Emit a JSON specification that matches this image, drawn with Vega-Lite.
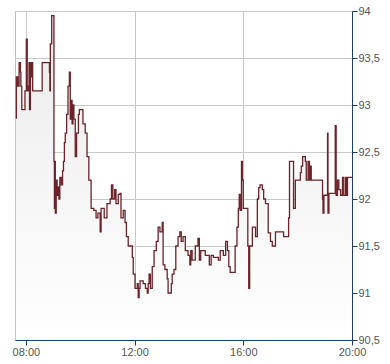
{
  "$schema": "https://vega.github.io/schema/vega-lite/v6.json",
  "width": 337,
  "height": 329,
  "autosize": "none",
  "padding": {"left": 15, "top": 11, "right": 38, "bottom": 24},
  "background": "#ffffff",
  "config": {
    "view": {"stroke": "#c0c0c0", "strokeWidth": 1},
    "axis": {
      "labelFont": "Liberation Sans",
      "labelFontSize": 11,
      "labelColor": "#555555",
      "domainColor": "#1f3b6b",
      "tickColor": "#1f3b6b",
      "tickSize": 5,
      "gridColor": "#c8c8c8",
      "gridWidth": 1,
      "gridOpacity": 1,
      "title": null
    }
  },
  "data": {
    "values": [
      {"t": "2024-01-15T07:38", "v": 92.86},
      {"t": "2024-01-15T07:39", "v": 93.3},
      {"t": "2024-01-15T07:42", "v": 93.2},
      {"t": "2024-01-15T07:45", "v": 93.45},
      {"t": "2024-01-15T07:48", "v": 93.35},
      {"t": "2024-01-15T07:49", "v": 93.2},
      {"t": "2024-01-15T07:51", "v": 92.95},
      {"t": "2024-01-15T07:58", "v": 93.15},
      {"t": "2024-01-15T08:01", "v": 93.7},
      {"t": "2024-01-15T08:03", "v": 93.2},
      {"t": "2024-01-15T08:04", "v": 93.15},
      {"t": "2024-01-15T08:07", "v": 93.45},
      {"t": "2024-01-15T08:08", "v": 92.95},
      {"t": "2024-01-15T08:10", "v": 93.45},
      {"t": "2024-01-15T08:12", "v": 93.3},
      {"t": "2024-01-15T08:13", "v": 93.45},
      {"t": "2024-01-15T08:15", "v": 93.15},
      {"t": "2024-01-15T08:36", "v": 93.45},
      {"t": "2024-01-15T08:52", "v": 93.35},
      {"t": "2024-01-15T08:53", "v": 93.15},
      {"t": "2024-01-15T08:54", "v": 93.65},
      {"t": "2024-01-15T08:57", "v": 93.95},
      {"t": "2024-01-15T09:02", "v": 92.4},
      {"t": "2024-01-15T09:03", "v": 91.9},
      {"t": "2024-01-15T09:04", "v": 92.4},
      {"t": "2024-01-15T09:05", "v": 91.85},
      {"t": "2024-01-15T09:07", "v": 92.2},
      {"t": "2024-01-15T09:09", "v": 92.04},
      {"t": "2024-01-15T09:11", "v": 92.13},
      {"t": "2024-01-15T09:13", "v": 92.0},
      {"t": "2024-01-15T09:15", "v": 92.23},
      {"t": "2024-01-15T09:18", "v": 92.15},
      {"t": "2024-01-15T09:21", "v": 92.3},
      {"t": "2024-01-15T09:23", "v": 92.4},
      {"t": "2024-01-15T09:25", "v": 92.6},
      {"t": "2024-01-15T09:27", "v": 92.7},
      {"t": "2024-01-15T09:30", "v": 92.9},
      {"t": "2024-01-15T09:33", "v": 93.2},
      {"t": "2024-01-15T09:36", "v": 93.35},
      {"t": "2024-01-15T09:38", "v": 92.85},
      {"t": "2024-01-15T09:40", "v": 93.05},
      {"t": "2024-01-15T09:42", "v": 92.8},
      {"t": "2024-01-15T09:44", "v": 93.0},
      {"t": "2024-01-15T09:46", "v": 92.85},
      {"t": "2024-01-15T09:49", "v": 92.45},
      {"t": "2024-01-15T09:52", "v": 92.7},
      {"t": "2024-01-15T09:56", "v": 92.9},
      {"t": "2024-01-15T09:58", "v": 92.95},
      {"t": "2024-01-15T10:06", "v": 92.8},
      {"t": "2024-01-15T10:11", "v": 92.7},
      {"t": "2024-01-15T10:15", "v": 92.45},
      {"t": "2024-01-15T10:19", "v": 92.2},
      {"t": "2024-01-15T10:24", "v": 91.9},
      {"t": "2024-01-15T10:30", "v": 91.88},
      {"t": "2024-01-15T10:35", "v": 91.8},
      {"t": "2024-01-15T10:39", "v": 91.85},
      {"t": "2024-01-15T10:44", "v": 91.65},
      {"t": "2024-01-15T10:46", "v": 91.9},
      {"t": "2024-01-15T10:53", "v": 91.8},
      {"t": "2024-01-15T10:59", "v": 91.95},
      {"t": "2024-01-15T11:06", "v": 92.0},
      {"t": "2024-01-15T11:09", "v": 92.15},
      {"t": "2024-01-15T11:12", "v": 92.0},
      {"t": "2024-01-15T11:16", "v": 92.1},
      {"t": "2024-01-15T11:19", "v": 91.95},
      {"t": "2024-01-15T11:24", "v": 92.05},
      {"t": "2024-01-15T11:28", "v": 92.06},
      {"t": "2024-01-15T11:30", "v": 91.8},
      {"t": "2024-01-15T11:35", "v": 91.88},
      {"t": "2024-01-15T11:39", "v": 91.75},
      {"t": "2024-01-15T11:42", "v": 91.6},
      {"t": "2024-01-15T11:46", "v": 91.5},
      {"t": "2024-01-15T11:55", "v": 91.38},
      {"t": "2024-01-15T11:57", "v": 91.2},
      {"t": "2024-01-15T12:01", "v": 91.05},
      {"t": "2024-01-15T12:06", "v": 91.1},
      {"t": "2024-01-15T12:08", "v": 90.95},
      {"t": "2024-01-15T12:10", "v": 91.05},
      {"t": "2024-01-15T12:12", "v": 91.13},
      {"t": "2024-01-15T12:19", "v": 91.1},
      {"t": "2024-01-15T12:24", "v": 91.05},
      {"t": "2024-01-15T12:28", "v": 91.0},
      {"t": "2024-01-15T12:30", "v": 91.1},
      {"t": "2024-01-15T12:32", "v": 91.2},
      {"t": "2024-01-15T12:35", "v": 91.05},
      {"t": "2024-01-15T12:39", "v": 91.28},
      {"t": "2024-01-15T12:43", "v": 91.45},
      {"t": "2024-01-15T12:48", "v": 91.55},
      {"t": "2024-01-15T12:52", "v": 91.7},
      {"t": "2024-01-15T12:56", "v": 91.65},
      {"t": "2024-01-15T13:01", "v": 91.75},
      {"t": "2024-01-15T13:03", "v": 91.3},
      {"t": "2024-01-15T13:07", "v": 91.25},
      {"t": "2024-01-15T13:12", "v": 91.15},
      {"t": "2024-01-15T13:14", "v": 91.0},
      {"t": "2024-01-15T13:21", "v": 91.1},
      {"t": "2024-01-15T13:23", "v": 91.2},
      {"t": "2024-01-15T13:27", "v": 91.25},
      {"t": "2024-01-15T13:31", "v": 91.5},
      {"t": "2024-01-15T13:36", "v": 91.6},
      {"t": "2024-01-15T13:40", "v": 91.65},
      {"t": "2024-01-15T13:43", "v": 91.55},
      {"t": "2024-01-15T13:47", "v": 91.6},
      {"t": "2024-01-15T13:52", "v": 91.45},
      {"t": "2024-01-15T13:58", "v": 91.4},
      {"t": "2024-01-15T14:02", "v": 91.3},
      {"t": "2024-01-15T14:04", "v": 91.45},
      {"t": "2024-01-15T14:07", "v": 91.35},
      {"t": "2024-01-15T14:14", "v": 91.5},
      {"t": "2024-01-15T14:20", "v": 91.58},
      {"t": "2024-01-15T14:23", "v": 91.35},
      {"t": "2024-01-15T14:26", "v": 91.45},
      {"t": "2024-01-15T14:36", "v": 91.4},
      {"t": "2024-01-15T14:45", "v": 91.3},
      {"t": "2024-01-15T14:49", "v": 91.4},
      {"t": "2024-01-15T14:54", "v": 91.38},
      {"t": "2024-01-15T15:05", "v": 91.35},
      {"t": "2024-01-15T15:09", "v": 91.45},
      {"t": "2024-01-15T15:16", "v": 91.4},
      {"t": "2024-01-15T15:21", "v": 91.55},
      {"t": "2024-01-15T15:25", "v": 91.45},
      {"t": "2024-01-15T15:28", "v": 91.28},
      {"t": "2024-01-15T15:31", "v": 91.22},
      {"t": "2024-01-15T15:42", "v": 91.5},
      {"t": "2024-01-15T15:46", "v": 91.7},
      {"t": "2024-01-15T15:49", "v": 91.9},
      {"t": "2024-01-15T15:51", "v": 92.05},
      {"t": "2024-01-15T15:53", "v": 91.88},
      {"t": "2024-01-15T15:56", "v": 92.4},
      {"t": "2024-01-15T15:58", "v": 92.2},
      {"t": "2024-01-15T16:00", "v": 91.9},
      {"t": "2024-01-15T16:10", "v": 91.5},
      {"t": "2024-01-15T16:12", "v": 91.05},
      {"t": "2024-01-15T16:14", "v": 91.5},
      {"t": "2024-01-15T16:20", "v": 91.7},
      {"t": "2024-01-15T16:27", "v": 91.6},
      {"t": "2024-01-15T16:31", "v": 92.0},
      {"t": "2024-01-15T16:34", "v": 92.12},
      {"t": "2024-01-15T16:37", "v": 92.15},
      {"t": "2024-01-15T16:42", "v": 92.1},
      {"t": "2024-01-15T16:45", "v": 92.0},
      {"t": "2024-01-15T16:49", "v": 91.95},
      {"t": "2024-01-15T16:55", "v": 91.64},
      {"t": "2024-01-15T17:00", "v": 91.55},
      {"t": "2024-01-15T17:04", "v": 91.5},
      {"t": "2024-01-15T17:11", "v": 91.65},
      {"t": "2024-01-15T17:29", "v": 91.6},
      {"t": "2024-01-15T17:40", "v": 91.8},
      {"t": "2024-01-15T17:42", "v": 92.4},
      {"t": "2024-01-15T17:51", "v": 91.9},
      {"t": "2024-01-15T17:55", "v": 92.2},
      {"t": "2024-01-15T18:06", "v": 92.28},
      {"t": "2024-01-15T18:08", "v": 92.35},
      {"t": "2024-01-15T18:11", "v": 92.45},
      {"t": "2024-01-15T18:17", "v": 92.4},
      {"t": "2024-01-15T18:19", "v": 92.2},
      {"t": "2024-01-15T18:23", "v": 92.4},
      {"t": "2024-01-15T18:26", "v": 92.2},
      {"t": "2024-01-15T18:28", "v": 92.35},
      {"t": "2024-01-15T18:30", "v": 92.2},
      {"t": "2024-01-15T18:55", "v": 92.0},
      {"t": "2024-01-15T18:56", "v": 91.85},
      {"t": "2024-01-15T18:58", "v": 92.04},
      {"t": "2024-01-15T19:06", "v": 92.7},
      {"t": "2024-01-15T19:07", "v": 91.85},
      {"t": "2024-01-15T19:09", "v": 92.06},
      {"t": "2024-01-15T19:23", "v": 92.78},
      {"t": "2024-01-15T19:25", "v": 92.04},
      {"t": "2024-01-15T19:28", "v": 92.2},
      {"t": "2024-01-15T19:31", "v": 92.1},
      {"t": "2024-01-15T19:35", "v": 92.04},
      {"t": "2024-01-15T19:39", "v": 92.23},
      {"t": "2024-01-15T19:42", "v": 92.04},
      {"t": "2024-01-15T19:46", "v": 92.23},
      {"t": "2024-01-15T19:48", "v": 92.04},
      {"t": "2024-01-15T19:50", "v": 92.23},
      {"t": "2024-01-15T20:00", "v": 92.23}
    ]
  },
  "encoding": {
    "x": {
      "field": "t",
      "type": "temporal",
      "scale": {
        "domain": [
          {"year": 2024, "month": 1, "date": 15, "hours": 7, "minutes": 36},
          {"year": 2024, "month": 1, "date": 15, "hours": 20, "minutes": 0}
        ],
        "nice": false
      },
      "axis": {
        "values": [
          {"year": 2024, "month": 1, "date": 15, "hours": 8},
          {"year": 2024, "month": 1, "date": 15, "hours": 12},
          {"year": 2024, "month": 1, "date": 15, "hours": 16},
          {"year": 2024, "month": 1, "date": 15, "hours": 20}
        ],
        "format": "%H:%M",
        "labelPadding": 1,
        "labelFlush": false,
        "labelOverlap": false
      }
    },
    "y": {
      "field": "v",
      "type": "quantitative",
      "scale": {"domain": [90.5, 94], "nice": false, "zero": false},
      "axis": {
        "orient": "right",
        "values": [90.5, 91, 91.5, 92, 92.5, 93, 93.5, 94],
        "labelExpr": "replace(format(datum.value, '.1~f'), '.', ',')",
        "labelPadding": 1,
        "labelBaseline": "middle",
        "labelFlush": false,
        "labelOverlap": false
      }
    }
  },
  "layer": [
    {
      "mark": {
        "type": "area",
        "interpolate": "step-after",
        "clip": true,
        "opacity": 1,
        "color": {
          "gradient": "linear",
          "x1": 1, "y1": 1, "x2": 1, "y2": 0,
          "stops": [
            {"offset": 0, "color": "#ffffff"},
            {"offset": 1, "color": "#ebebeb"}
          ]
        }
      },
      "encoding": {
        "y2": {"datum": 90.5}
      }
    },
    {
      "mark": {
        "type": "line",
        "interpolate": "step-after",
        "clip": true,
        "color": "#6b2228",
        "strokeWidth": 1.3
      }
    }
  ]
}
